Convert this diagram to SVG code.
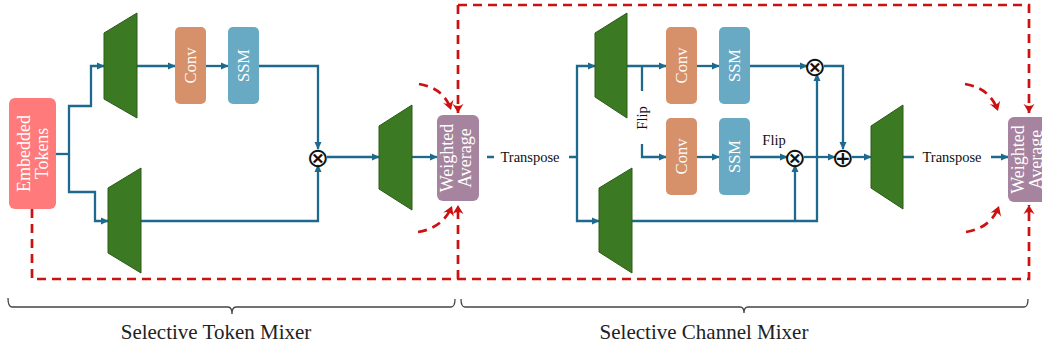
<svg xmlns="http://www.w3.org/2000/svg" width="1042" height="350" viewBox="0 0 1042 350">
  <defs>
    <marker id="arrow" viewBox="0 0 10 10" refX="9" refY="5" markerWidth="8" markerHeight="8" markerUnits="userSpaceOnUse" orient="auto">
      <path d="M0,0.5 L10,5 L0,9.5 z" fill="#1e6a8d"/>
    </marker>
    <marker id="barb" viewBox="-12 -7 14 14" refX="0" refY="0" markerWidth="13" markerHeight="13" markerUnits="userSpaceOnUse" orient="auto">
      <path d="M0,0 L-10,-6 Q-5,0 -10,6 z" fill="#cc1111"/>
    </marker>
  </defs>
  <style>
    .flow { fill: none; stroke: #1e6a8d; stroke-width: 2.3; }
    .dash { fill: none; stroke: #cc1111; stroke-width: 2.7; stroke-dasharray: 9 6; }
    .proj { fill: #3b7a23; stroke: #2c5c19; stroke-width: 1; }
    .conv { fill: #d6906a; }
    .ssm { fill: #68a9c4; }
    .emb { fill: #ff7a7a; }
    .avg { fill: #a6839e; }
    .inner { font-family: "Liberation Serif", serif; font-size: 16.5px; fill: #ffffff; text-anchor: middle; }
    .big { font-size: 18px; }
    .lbl { font-family: "Liberation Serif", serif; font-size: 14.5px; fill: #111; text-anchor: middle; }
    .op { font-family: "DejaVu Sans", sans-serif; font-size: 27px; fill: #111; text-anchor: middle; }
    .cap { font-family: "Liberation Serif", serif; font-size: 21px; fill: #222; text-anchor: middle; }
    .brace { fill: none; stroke: #444; stroke-width: 1.3; }
  </style>

  <!-- residual / weighting paths -->
  <g id="residuals">
    <path class="dash" d="M32,209 V279 H1029 V205" marker-end="url(#barb)"/>
    <path class="dash" d="M458,279 V205" marker-end="url(#barb)"/>
    <path class="dash" d="M458,5 V113" marker-end="url(#barb)"/>
    <path class="dash" d="M458,5 H1029 V113" marker-end="url(#barb)"/>
    <path class="dash" d="M419,84 Q444,88 451,110" marker-end="url(#barb)"/>
    <path class="dash" d="M418,232 Q443,228 452,206" marker-end="url(#barb)"/>
    <path class="dash" d="M965,84 Q990,88 998,111" marker-end="url(#barb)"/>
    <path class="dash" d="M966,232 Q991,228 999,206" marker-end="url(#barb)"/>
  </g>

  <!-- data-flow connectors -->
  <g id="connectors">
    <path class="flow" d="M56,154 H69"/>
    <path class="flow" d="M69,154 V106 H91 V66 H104" marker-end="url(#arrow)"/>
    <path class="flow" d="M69,154 V192 H95 V221 H108" marker-end="url(#arrow)"/>
    <path class="flow" d="M137,66 H175" marker-end="url(#arrow)"/>
    <path class="flow" d="M206,66 H228" marker-end="url(#arrow)"/>
    <path class="flow" d="M259,66 H318 V149" marker-end="url(#arrow)"/>
    <path class="flow" d="M141,221 H318 V165" marker-end="url(#arrow)"/>
    <path class="flow" d="M327,157 H379" marker-end="url(#arrow)"/>
    <path class="flow" d="M412,157 H437" marker-end="url(#arrow)"/>
    <path class="flow" d="M487,157 H577"/>
    <path class="flow" d="M577,157 V66 H595" marker-end="url(#arrow)"/>
    <path class="flow" d="M577,157 V221 H599" marker-end="url(#arrow)"/>
    <path class="flow" d="M627,66 H666" marker-end="url(#arrow)"/>
    <path class="flow" d="M642,66 V91"/>
    <path class="flow" d="M642,144 V157 H666" marker-end="url(#arrow)"/>
    <path class="flow" d="M697,66 H719" marker-end="url(#arrow)"/>
    <path class="flow" d="M697,157 H719" marker-end="url(#arrow)"/>
    <path class="flow" d="M750,66 H807" marker-end="url(#arrow)"/>
    <path class="flow" d="M750,157 H787" marker-end="url(#arrow)"/>
    <path class="flow" d="M824,66 H843 V149" marker-end="url(#arrow)"/>
    <path class="flow" d="M804,157 H835" marker-end="url(#arrow)"/>
    <path class="flow" d="M632,221 H817 V74" marker-end="url(#arrow)"/>
    <path class="flow" d="M795,221 V165" marker-end="url(#arrow)"/>
    <path class="flow" d="M852,157 H871" marker-end="url(#arrow)"/>
    <path class="flow" d="M903,157 H1008" marker-end="url(#arrow)"/>
    <!-- edge labels -->
    <rect x="494" y="146" width="75" height="20" fill="#ffffff"/>
    <text class="lbl" x="530" y="162">Transpose</text>
    <rect x="914" y="146" width="77" height="20" fill="#ffffff"/>
    <text class="lbl" x="952" y="162">Transpose</text>
    <text class="lbl" transform="translate(647,118) rotate(-90)">Flip</text>
    <text class="lbl" x="774" y="145">Flip</text>
  </g>

  <!-- Selective Token Mixer -->
  <g id="embedded-tokens">
    <rect class="emb" x="9" y="98" width="47" height="111" rx="6"/>
    <text class="inner big" transform="translate(30,153.5) rotate(-90)">Embedded</text>
    <text class="inner big" transform="translate(48,153.5) rotate(-90)">Tokens</text>
  </g>
  <g id="proj-token-a"><polygon class="proj" points="104,33 137,13 137,118 104,99"/></g>
  <g id="proj-token-b"><polygon class="proj" points="108,188 141,168 141,273 108,253"/></g>
  <g id="conv-token">
    <rect class="conv" x="175" y="27" width="31" height="77" rx="5"/>
    <text class="inner" transform="translate(196,65.5) rotate(-90)">Conv</text>
  </g>
  <g id="ssm-token">
    <rect class="ssm" x="228" y="27" width="31" height="77" rx="5"/>
    <text class="inner" transform="translate(249,65.5) rotate(-90)">SSM</text>
  </g>
  <g id="mul-token"><text class="op" x="318" y="166.5">⊗</text></g>
  <g id="proj-token-out"><polygon class="proj" points="379,126 412,105 412,210 379,189"/></g>
  <g id="weighted-average-1">
    <rect class="avg" x="437" y="115" width="42" height="86" rx="6"/>
    <text class="inner big" transform="translate(453,158) rotate(-90)">Weighted</text>
    <text class="inner big" transform="translate(471,158) rotate(-90)">Average</text>
  </g>

  <!-- Selective Channel Mixer -->
  <g id="proj-channel-a"><polygon class="proj" points="595,33 627,13 627,118 595,97"/></g>
  <g id="proj-channel-b"><polygon class="proj" points="599,188 632,168 632,273 599,252"/></g>
  <g id="conv-channel-fwd">
    <rect class="conv" x="666" y="27" width="31" height="77" rx="5"/>
    <text class="inner" transform="translate(687,65.5) rotate(-90)">Conv</text>
  </g>
  <g id="ssm-channel-fwd">
    <rect class="ssm" x="719" y="27" width="31" height="77" rx="5"/>
    <text class="inner" transform="translate(740,65.5) rotate(-90)">SSM</text>
  </g>
  <g id="conv-channel-bwd">
    <rect class="conv" x="666" y="118" width="31" height="77" rx="5"/>
    <text class="inner" transform="translate(687,156.5) rotate(-90)">Conv</text>
  </g>
  <g id="ssm-channel-bwd">
    <rect class="ssm" x="719" y="118" width="31" height="77" rx="5"/>
    <text class="inner" transform="translate(740,156.5) rotate(-90)">SSM</text>
  </g>
  <g id="mul-channel-fwd"><text class="op" x="815" y="75.5">⊗</text></g>
  <g id="mul-channel-bwd"><text class="op" x="795" y="166.5">⊗</text></g>
  <g id="add-channel"><text class="op" x="843" y="166.5">⊕</text></g>
  <g id="proj-channel-out"><polygon class="proj" points="871,126 903,105 903,209 871,188"/></g>
  <g id="weighted-average-2">
    <rect class="avg" x="1008" y="117" width="42" height="85" rx="6"/>
    <text class="inner big" transform="translate(1024,159.5) rotate(-90)">Weighted</text>
    <text class="inner big" transform="translate(1042,159.5) rotate(-90)">Average</text>
  </g>

  <!-- section braces -->
  <g id="braces">
    <path class="brace" d="M8,298 Q8,307 12,307 H228 Q232,307 232,314 Q232,307 236,307 H451 Q455,307 455,299"/>
    <path class="brace" d="M461,299 Q461,307 465,307 H740 Q744,307 744,313 Q744,307 748,307 H1024 Q1028,307 1028,299"/>
    <text class="cap" x="216" y="339">Selective Token Mixer</text>
    <text class="cap" x="704" y="339">Selective Channel Mixer</text>
  </g>
</svg>
